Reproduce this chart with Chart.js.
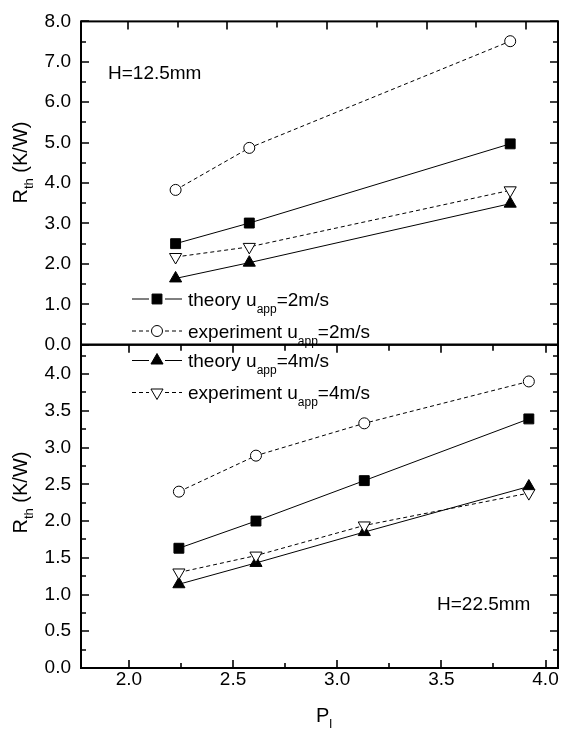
<!DOCTYPE html>
<html>
<head>
<meta charset="utf-8">
<title>Thermal resistance vs P_l</title>
<script src="https://cdn.jsdelivr.net/npm/chart.js@4.4.1/dist/chart.umd.min.js"></script>
<style>
  html, body { margin: 0; padding: 0; background: #fff; }
</style>
</head>
<body>
<canvas id="rthChart" width="566" height="729"></canvas>
<script>
// P_l of the measurement points
const plTop = [2.24, 2.61, 3.92];          // H = 12.5 mm
const plBot = [2.24, 2.61, 3.13, 3.92];    // H = 22.5 mm

// H = 12.5 mm, R_th in K/W
const topTheory2 = [2.50, 3.01, 4.97];
const topExp2 = [3.83, 4.87, 7.51];
const topTheory4 = [1.64, 2.03, 3.49];
const topExp4 = [2.17, 2.42, 3.82];

// H = 22.5 mm, R_th in K/W
const botTheory2 = [1.63, 2.00, 2.55, 3.39];
const botExp2 = [2.40, 2.89, 3.33, 3.90];
const botTheory4 = [1.14, 1.43, 1.85, 2.47];
const botExp4 = [1.30, 1.53, 1.94, 2.38];

// axis ticks
const xMajor = [2.0, 2.5, 3.0, 3.5, 4.0];
const xMinor = [2.25, 2.75, 3.25, 3.75];
const yTopMajor = [0, 1, 2, 3, 4, 5, 6, 7, 8];
const yTopMinor = [0.5, 1.5, 2.5, 3.5, 4.5, 5.5, 6.5, 7.5];
const yBotMajor = [0, 0.5, 1, 1.5, 2, 2.5, 3, 3.5, 4];
const yBotMinor = [0.25, 0.75, 1.25, 1.75, 2.25, 2.75, 3.25, 3.75, 4.25];

// legend rows
const legendKind = ['theory', 'experiment', 'theory', 'experiment'];
const legendSpeed = ['=2m/s', '=2m/s', '=4m/s', '=4m/s'];

const FONT = "'Liberation Sans', Arial, sans-serif";
const DASH = [4, 3];

function pts(xs, ys) {
  return xs.map((x, i) => ({ x: x, y: ys[i] }));
}

// one look per legend row: square, circle, up triangle, down triangle
const looks = [
  { pointStyle: 'rect', radius: 7, fill: '#000', dash: [], rotation: 0 },
  { pointStyle: 'circle', radius: 5.5, fill: '#fff', dash: DASH, rotation: 0 },
  { pointStyle: 'triangle', radius: 7, fill: '#000', dash: [], rotation: 0 },
  { pointStyle: 'triangle', radius: 7, fill: '#fff', dash: DASH, rotation: 180 }
];

function series(xs, ys, k, xAxis, yAxis) {
  const lk = looks[k];
  return {
    data: pts(xs, ys),
    xAxisID: xAxis,
    yAxisID: yAxis,
    showLine: true,
    borderColor: '#000',
    borderWidth: 1,
    borderDash: lk.dash,
    backgroundColor: lk.fill,
    pointStyle: lk.pointStyle,
    pointRadius: lk.radius,
    pointRotation: lk.rotation,
    pointBackgroundColor: lk.fill,
    pointBorderColor: '#000',
    pointBorderWidth: 1,
    tension: 0
  };
}

const datasets = [
  series(plTop, topExp2, 1, 'xTop', 'yTop'),
  series(plTop, topTheory2, 0, 'xTop', 'yTop'),
  series(plTop, topExp4, 3, 'xTop', 'yTop'),
  series(plTop, topTheory4, 2, 'xTop', 'yTop'),
  series(plBot, botExp2, 1, 'xBot', 'yBot'),
  series(plBot, botTheory2, 0, 'xBot', 'yBot'),
  series(plBot, botExp4, 3, 'xBot', 'yBot'),
  series(plBot, botTheory4, 2, 'xBot', 'yBot')
];

// text with subscripts: parts = [[text, isSub], ...]
function richText(ctx, parts, x, y, size, subSize, subDrop) {
  let cx = x;
  ctx.textAlign = 'left';
  ctx.textBaseline = 'alphabetic';
  for (const [t, sub] of parts) {
    ctx.font = (sub ? subSize : size) + 'px ' + FONT;
    ctx.fillText(t, cx, sub ? y + subDrop : y);
    cx += ctx.measureText(t).width;
  }
}

function fixedTicks(values) {
  return (scale) => { scale.ticks = values.map(v => ({ value: v })); };
}

// frame and inward tick marks of both panels
const framePlugin = {
  id: 'frame',
  afterDatasetsDraw(chart) {
    const ctx = chart.ctx;
    const s = chart.scales;
    const L = chart.chartArea.left, R = chart.chartArea.right;
    ctx.save();
    ctx.strokeStyle = '#000';
    ctx.lineWidth = 2;
    ctx.strokeRect(L, s.yTop.top, R - L, s.yTop.bottom - s.yTop.top);
    ctx.strokeRect(L, s.yBot.top, R - L, s.yBot.bottom - s.yBot.top);

    ctx.lineWidth = 1.6;
    ctx.beginPath();
    const sideTicks = (scale, vals, len) => {
      for (const v of vals) {
        const y = Math.round(scale.getPixelForValue(v));
        ctx.moveTo(L, y); ctx.lineTo(L + len, y);
        ctx.moveTo(R, y); ctx.lineTo(R - len, y);
      }
    };
    const edgeTicks = (scale, vals, yEdge, dir, len) => {
      for (const v of vals) {
        const x = Math.round(scale.getPixelForValue(v));
        ctx.moveTo(x, yEdge); ctx.lineTo(x, yEdge + dir * len);
      }
    };
    sideTicks(s.yTop, yTopMajor, 8);
    sideTicks(s.yTop, yTopMinor, 5);
    sideTicks(s.yBot, yBotMajor, 8);
    sideTicks(s.yBot, yBotMinor, 5);
    edgeTicks(s.xTop, xMajor, s.yTop.top, 1, 8);
    edgeTicks(s.xTop, xMinor, s.yTop.top, 1, 6);
    edgeTicks(s.xBot, xMajor, s.yBot.top, 1, 8);
    edgeTicks(s.xBot, xMinor, s.yBot.top, 1, 6);
    edgeTicks(s.xBot, xMajor, s.yBot.bottom, -1, 8);
    edgeTicks(s.xBot, xMinor, s.yBot.bottom, -1, 5);
    ctx.stroke();
    ctx.restore();
  },
  afterDraw(chart) {
    const ctx = chart.ctx;
    const ds = chart.data.datasets;
    ctx.save();
    ctx.fillStyle = '#000';

    // axis titles
    const yTitle = [['R', false], ['th', true], [' (K/W)', false]];
    for (const yStart of [203.5, 533.5]) {
      ctx.save();
      ctx.translate(27, yStart);
      ctx.rotate(-Math.PI / 2);
      richText(ctx, yTitle, 0, 0, 20, 13, 6);
      ctx.restore();
    }
    richText(ctx, [['P', false], ['l', true]], 316, 722, 20, 13, 6);

    // panel captions
    richText(ctx, [['H=12.5mm', false]], 108, 78.5, 19, 12, 7);
    richText(ctx, [['H=22.5mm', false]], 437, 610, 19, 12, 7);

    // legend
    const rowY = [299, 331, 360.5, 392.5];
    const order = [1, 0, 3, 2]; // dataset index for each legend row
    const x0 = 132, xm = 157, x1 = 182;
    for (let r = 0; r < 4; r++) {
      const d = ds[order[r]];
      const y = rowY[r];
      ctx.save();
      ctx.strokeStyle = '#000';
      ctx.lineWidth = 1;
      ctx.setLineDash(d.borderDash);
      ctx.beginPath();
      ctx.moveTo(x0, y); ctx.lineTo(xm - 8, y);
      ctx.moveTo(xm + 8, y); ctx.lineTo(x1, y);
      ctx.stroke();
      ctx.setLineDash([]);
      ctx.fillStyle = d.pointBackgroundColor;
      ctx.strokeStyle = '#000';
      Chart.helpers.drawPoint(ctx, {
        pointStyle: d.pointStyle,
        rotation: d.pointRotation,
        radius: d.pointRadius,
        borderWidth: 1
      }, xm, y);
      ctx.restore();
      richText(ctx, [[legendKind[r] + ' u', false], ['app', true], [legendSpeed[r], false]],
        188, y + 6.5, 19, 12, 7);
    }
    ctx.restore();
  }
};

const tickFont = { family: FONT, size: 19 };
const fmt = v => Number(v).toFixed(1);

new Chart(document.getElementById('rthChart'), {
  type: 'scatter',
  data: { datasets: datasets },
  options: {
    responsive: false,
    animation: false,
    devicePixelRatio: 1,
    layout: { padding: { top: 19, right: 6, left: 0, bottom: 0 } },
    plugins: { legend: { display: false }, tooltip: { enabled: false } },
    scales: {
      xBot: {
        type: 'linear', position: 'bottom', min: 1.77, max: 4.06,
        afterBuildTicks: fixedTicks(xMajor),
        afterFit: s => { s.height = 61; },
        grid: { display: false, drawTicks: false },
        border: { display: false },
        ticks: { font: tickFont, color: '#000', padding: 0, autoSkip: false, maxRotation: 0, callback: fmt }
      },
      xTop: { type: 'linear', display: false, min: 1.765, max: 4.16 },
      yBot: {
        type: 'linear', position: 'left', stack: 'panels', stackWeight: 1, min: 0, max: 4.4,
        afterBuildTicks: fixedTicks(yBotMajor),
        afterFit: s => { s.width = 81; },
        grid: { display: false, drawTicks: false },
        border: { display: false },
        ticks: { font: tickFont, color: '#000', padding: 10, autoSkip: false, callback: fmt }
      },
      yTop: {
        type: 'linear', position: 'left', stack: 'panels', stackWeight: 1, min: 0, max: 8,
        afterBuildTicks: fixedTicks(yTopMajor),
        afterFit: s => { s.width = 81; },
        grid: { display: false, drawTicks: false },
        border: { display: false },
        ticks: { font: tickFont, color: '#000', padding: 10, autoSkip: false, callback: fmt }
      }
    }
  },
  plugins: [framePlugin]
});
</script>
</body>
</html>
